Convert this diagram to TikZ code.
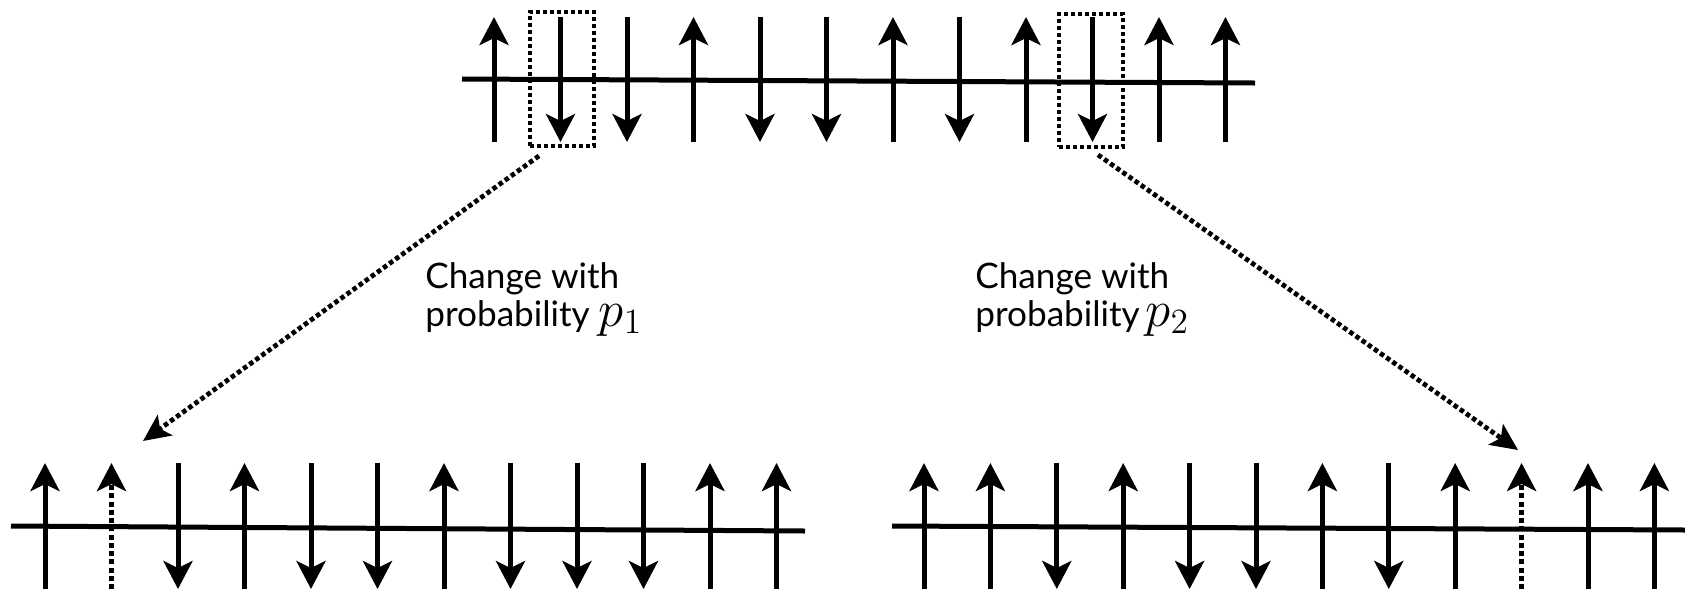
\documentclass[tikz,border=0pt]{standalone}
\usepackage{fontspec}
\setmainfont{Lato}
\usetikzlibrary{arrows.meta}

\tikzset{
  spin/.style={line width=0.1cm,
    -{Stealth[length=0.56cm, width=0.58cm, inset=0.14cm]}},
  flipped/.style={spin, dash pattern=on 0.1cm off 0.065cm},
  chain/.style={line width=0.1cm},
  window/.style={draw, line width=0.075cm, dash pattern=on 0.085cm off 0.055cm,
    minimum width=1.28cm, minimum height=2.68cm, inner sep=0pt},
  link/.style={line width=0.095cm, dash pattern=on 0.09cm off 0.06cm,
    -{Stealth[length=0.54cm, width=0.5cm, inset=0.12cm]}},
  note/.style={font=\fontsize{20}{21.5}\selectfont, align=left,
    anchor=north west, inner sep=0pt}
}
\newcommand{\prob}[1]{\scalebox{1.4}{$#1$}}

\begin{document}
\begin{tikzpicture}[x=0.02cm, y=-0.02cm]
\useasboundingbox (0,0) rectangle (1685,593);

% ── Cadena original ───────────────────────────────────────────
\draw[chain] (462,79) -- (1255,83);
\foreach \d [count=\i] in {1,-1,-1,1,-1,-1,1,-1,1,-1,1,1}
  \draw[spin] ({494+(\i-1)*66.5}, {79.5+62.5*\d})
           -- ({494+(\i-1)*66.5}, {79.5-62.5*\d});
% ventanas de los espines que cambian
\node[window] (box1) at (562,79) {};
\node[window, minimum height=2.66cm] (box2) at (1091,80.5) {};

% ── Cadena con el espín 2 invertido ──────────────────────────
\draw[chain] (11,526) -- (805,531);
\foreach \d/\st [count=\i] in {1/spin,1/flipped,-1/spin,1/spin,-1/spin,-1/spin,
                               1/spin,-1/spin,-1/spin,-1/spin,1/spin,1/spin}
  \draw[\st] ({45+(\i-1)*66.5}, {526+63*\d})
          -- ({45+(\i-1)*66.5}, {526-63*\d});
\coordinate (tip1) at (143,441);

% ── Cadena con el espín 10 invertido ─────────────────────────
\draw[chain] (892,526) -- (1685,530);
\foreach \d/\st [count=\i] in {1/spin,1/spin,-1/spin,1/spin,-1/spin,-1/spin,
                               1/spin,-1/spin,1/spin,1/flipped,1/spin,1/spin}
  \draw[\st] ({924+(\i-1)*66.4}, {526+63*\d})
          -- ({924+(\i-1)*66.4}, {526-63*\d});
\coordinate (tip2) at (1518,450);

% ── Transiciones ─────────────────────────────────────────────
\draw[link] ([shift={(-23,8)}]box1.south) -- (tip1);
\draw[link] ([shift={(7,6)}]box2.south) -- (tip2);

\node[note] (note1) at (425,262) {Change with\\probability \prob{p_1}};
\node[note] (note2) at (975,262) {Change with\\probability\,\prob{p_2}};

\end{tikzpicture}
\end{document}
